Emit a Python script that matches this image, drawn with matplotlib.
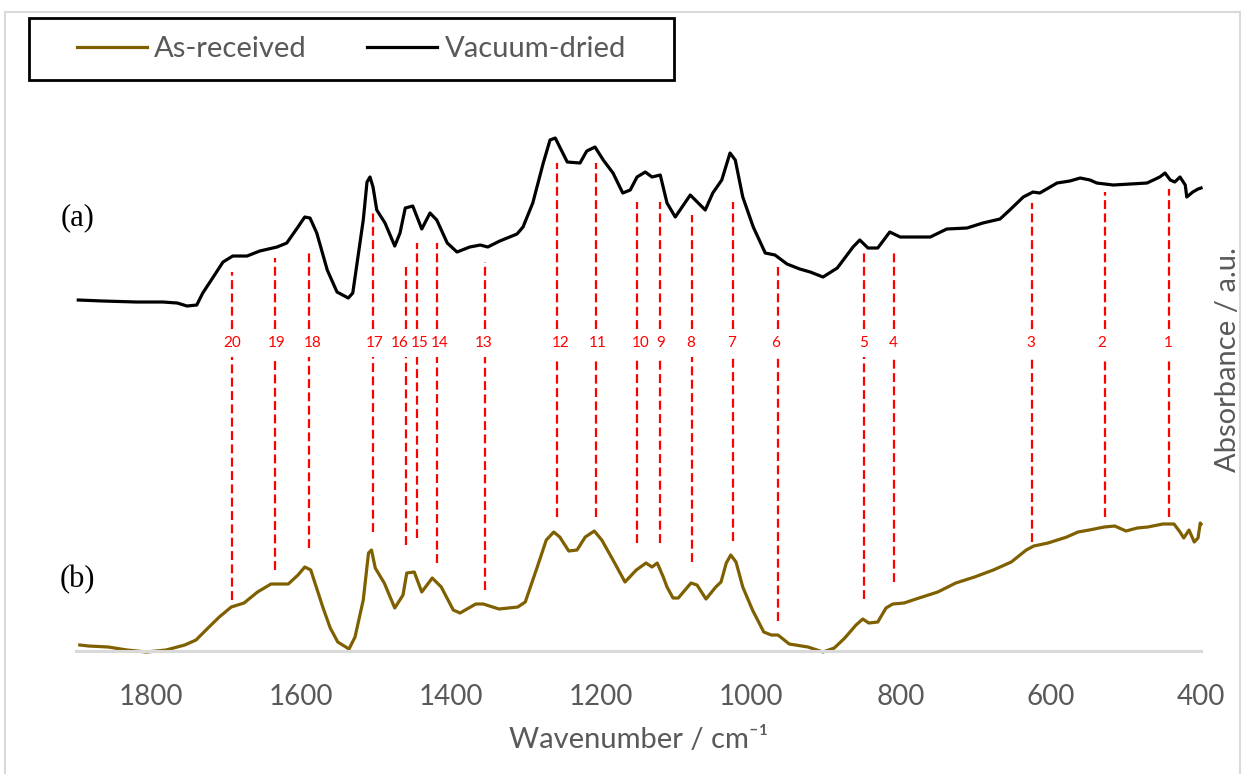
import matplotlib
matplotlib.use("Agg")
import matplotlib.pyplot as plt
from matplotlib.patches import Rectangle

plt.rcParams['font.family'] = ['Lato', 'DejaVu Sans']

# vacuum-dried spectrum (a), offset upwards
wn_a = [1897, 1864, 1819, 1784, 1765, 1752, 1739, 1731, 1717, 1704, 1691, 1672, 1655, 1632,
        1619, 1605, 1595, 1588, 1579, 1565, 1552, 1537, 1531, 1517, 1512, 1508, 1504, 1499,
        1488, 1475, 1468, 1461, 1451, 1439, 1428, 1419, 1405, 1392, 1375, 1361, 1351, 1335,
        1312, 1304, 1291, 1277, 1268, 1261, 1255, 1245, 1228, 1219, 1208, 1197, 1184, 1171,
        1161, 1152, 1141, 1132, 1121, 1112, 1101, 1081, 1061, 1051, 1039, 1028, 1021, 1011,
        997, 981, 968, 952, 935, 921, 904, 885, 864, 855, 844, 831, 815, 801, 761, 739, 712,
        691, 668, 655, 637, 624, 615, 592, 575, 561, 548, 539, 517, 472, 455, 448, 441, 435,
        428, 421, 419, 411, 404, 400]
abs_a = [3.51, 3.50, 3.49, 3.49, 3.48, 3.45, 3.46, 3.58, 3.74, 3.89, 3.95, 3.95, 4.00, 4.04,
         4.08, 4.23, 4.34, 4.33, 4.18, 3.81, 3.59, 3.53, 3.58, 4.31, 4.69, 4.74, 4.64, 4.41,
         4.28, 4.05, 4.18, 4.43, 4.45, 4.22, 4.38, 4.31, 4.08, 3.99, 4.04, 4.06, 4.04, 4.10,
         4.17, 4.24, 4.48, 4.88, 5.11, 5.13, 5.04, 4.89, 4.88, 5.00, 5.04, 4.91, 4.78, 4.58,
         4.61, 4.74, 4.79, 4.74, 4.76, 4.48, 4.34, 4.56, 4.41, 4.58, 4.71, 4.98, 4.91, 4.54,
         4.24, 3.98, 3.96, 3.87, 3.82, 3.79, 3.74, 3.83, 4.04, 4.11, 4.03, 4.03, 4.19, 4.14,
         4.14, 4.22, 4.23, 4.28, 4.32, 4.41, 4.54, 4.59, 4.58, 4.68, 4.70, 4.73, 4.71, 4.68,
         4.66, 4.68, 4.74, 4.78, 4.71, 4.69, 4.74, 4.66, 4.54, 4.59, 4.62, 4.63]

# as-received spectrum (b)
wn_b = [1895, 1883, 1857, 1832, 1806, 1780, 1755, 1740, 1724, 1709, 1693, 1676, 1658, 1640,
        1617, 1604, 1595, 1587, 1571, 1561, 1551, 1536, 1528, 1517, 1510, 1506, 1501, 1489,
        1475, 1464, 1459, 1449, 1439, 1425, 1413, 1397, 1388, 1367, 1357, 1336, 1311, 1301,
        1285, 1273, 1263, 1255, 1243, 1232, 1221, 1209, 1199, 1184, 1168, 1153, 1140, 1132,
        1125, 1117, 1112, 1104, 1097, 1080, 1072, 1060, 1047, 1040, 1033, 1027, 1020, 1011,
        998, 983, 973, 964, 949, 924, 904, 889, 875, 860, 851, 843, 831, 820, 811, 796, 776,
        751, 727, 702, 677, 653, 633, 623, 604, 579, 564, 549, 529, 515, 500, 485, 471, 451,
        436, 428, 423, 416, 409, 404, 401, 400]
abs_b = [0.06, 0.05, 0.04, 0.01, -0.01, 0.01, 0.06, 0.11, 0.23, 0.34, 0.44, 0.48, 0.59, 0.67,
         0.67, 0.76, 0.84, 0.81, 0.44, 0.23, 0.09, 0.02, 0.14, 0.51, 0.98, 1.01, 0.83, 0.68,
         0.43, 0.56, 0.78, 0.79, 0.59, 0.73, 0.64, 0.41, 0.38, 0.47, 0.47, 0.42, 0.44, 0.49,
         0.84, 1.11, 1.19, 1.14, 1.00, 1.01, 1.14, 1.20, 1.11, 0.91, 0.69, 0.81, 0.88, 0.84,
         0.88, 0.74, 0.64, 0.53, 0.53, 0.68, 0.66, 0.52, 0.64, 0.69, 0.88, 0.96, 0.89, 0.64,
         0.41, 0.19, 0.16, 0.16, 0.07, 0.04, -0.01, 0.03, 0.13, 0.26, 0.32, 0.28, 0.29, 0.43,
         0.47, 0.48, 0.53, 0.59, 0.68, 0.74, 0.81, 0.89, 1.01, 1.05, 1.08, 1.14, 1.19, 1.21,
         1.24, 1.25, 1.20, 1.23, 1.24, 1.27, 1.27, 1.19, 1.13, 1.21, 1.09, 1.13, 1.28, 1.27]

# assigned bands and the extent of their marker lines
peak_labels = ['20', '19', '18', '17', '16', '15', '14', '13', '12', '11',
               '10', '9', '8', '7', '6', '5', '4', '3', '2', '1']
peak_wn = [1692, 1635, 1590, 1504, 1460, 1446, 1419, 1355, 1259, 1207,
           1152, 1121, 1079, 1024, 964, 850, 810, 625, 528, 443]
label_wn = [1692, 1633, 1585, 1502, 1468, 1442, 1415, 1357, 1254, 1205,
            1147, 1121, 1080, 1026, 967, 850, 810, 627, 532, 444]
peak_top = [3.79, 3.93, 3.98, 4.41, 3.84, 4.08, 4.08, 3.89, 4.88, 4.88,
            4.49, 4.49, 4.36, 4.49, 3.84, 3.98, 3.98, 4.48, 4.59, 4.62]
peak_bottom = [0.51, 0.81, 1.03, 1.19, 1.06, 1.13, 0.88, 0.61, 1.34, 1.34,
               1.08, 1.08, 0.89, 1.10, 0.30, 0.52, 0.69, 1.09, 1.34, 1.34]
label_y = 3.08

grey = '#595959'

fig = plt.figure(figsize=(12.42, 7.74), dpi=100)
ax = fig.add_axes([0.0612, 0.1589, 0.9058, 0.7248])

line_b, = ax.plot(wn_b, abs_b, color='#7F6000', lw=2.3, label='As-received', clip_on=False)
line_a, = ax.plot(wn_a, abs_a, color='black', lw=2.3, label='Vacuum-dried', clip_on=False)

dash = (0, (4, 2))
ax.vlines(peak_wn, [3.22] * len(peak_wn), peak_top, colors='#FF0000', lw=1.6, linestyles=dash)
ax.vlines(peak_wn, peak_bottom, [2.94] * len(peak_wn), colors='#FF0000', lw=1.6, linestyles=dash)
for lab, w in zip(peak_labels, label_wn):
    ax.text(w, label_y, lab, color='#FF0000', fontsize=11, ha='center', va='center')

ax.text(1898, 4.33, '(a)', family='Liberation Serif', fontsize=22, ha='center', va='center')
ax.text(1898, 0.71, '(b)', family='Liberation Serif', fontsize=22, ha='center', va='center')

ax.set_xlim(1900, 400)
ax.set_ylim(0, 5.61)
ax.set_xticks([1800, 1600, 1400, 1200, 1000, 800, 600, 400])
ax.set_yticks([])
for s in ['left', 'top', 'right']:
    ax.spines[s].set_visible(False)
ax.spines['bottom'].set_color('#D9D9D9')
ax.spines['bottom'].set_linewidth(2.2)
ax.tick_params(axis='x', length=0, pad=24, labelsize=20, labelcolor=grey)

ax.set_xlabel('Wavenumber / cm⁻¹', fontsize=21, color=grey)
ax.xaxis.set_label_coords(0.5, -0.159)
ax.xaxis.label.set_va('center')
ax.set_ylabel('Absorbance / a.u.', fontsize=21, color=grey)
ax.yaxis.set_label_position('right')
ax.yaxis.set_label_coords(1.024, 0.519)
ax.yaxis.label.set_va('center')

fig.legend(handles=[line_b, line_a], loc='center', bbox_to_anchor=(351.5 / 1242, 1 - 49 / 774),
           ncol=2, frameon=False, fontsize=21, handlelength=2.4, handletextpad=0.25,
           columnspacing=2.07, labelcolor=grey)
fig.patches.append(Rectangle((29 / 1242, 1 - 80 / 774), 645 / 1242, 62 / 774,
                             transform=fig.transFigure, fill=False, ec='black', lw=2))
fig.patches.append(Rectangle((5 / 1242, -0.01), 1235 / 1242, 1 - 12 / 774 + 0.01,
                             transform=fig.transFigure, fill=False, ec='#D9D9D9', lw=1.5))

fig.savefig('out.png', dpi=100)
